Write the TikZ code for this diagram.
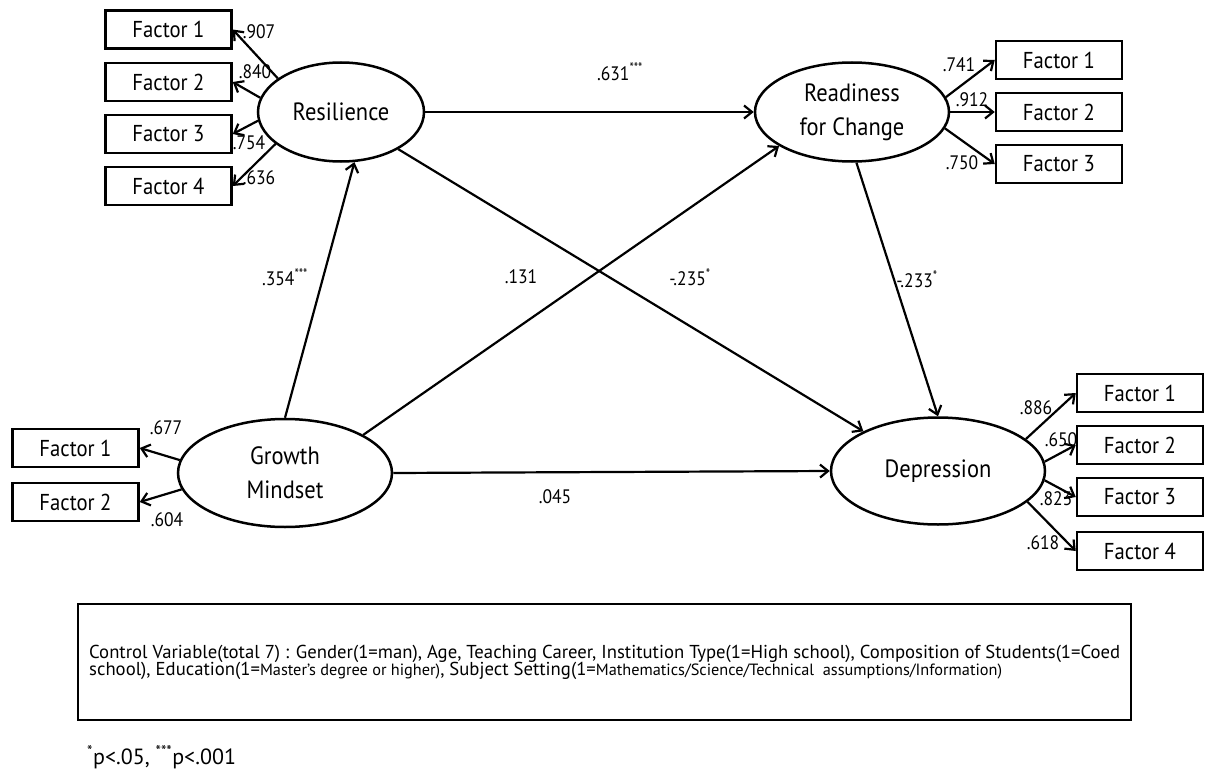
\documentclass[tikz,border=0pt]{standalone}
\usepackage{fontspec}
\setmainfont{PT Sans}
\newfontfamily\nfont{PT Sans}[FakeStretch=0.9]
\usetikzlibrary{arrows.meta,shapes.geometric}
\begin{document}
\begin{tikzpicture}[x=1pt,y=-1pt,
  lat/.style={draw,line width=2.5pt,ellipse,inner sep=0pt,align=center,font=\nfont\fontsize{25}{34}\selectfont},
  ind/.style={draw,line width=2.5pt,minimum width=126pt,minimum height=38pt,inner sep=0pt,font=\nfont\fontsize{23}{26}\selectfont},
  conn/.style={line width=2.2pt,-{Straight Barb[length=8pt,width=13pt,line width=2.2pt]}},
  coef/.style={font=\nfont\fontsize{19.5}{22}\selectfont,inner sep=0pt},
  ctl/.style={font=\fontsize{18.7}{18}\selectfont,inner sep=0pt,anchor=base west}
]
\useasboundingbox (0,0) rectangle (1205,776);

% latent variables
\node[lat,minimum width=166pt,minimum height=99pt] (res) at (341,112) {Resilience};
\node[lat,minimum width=194pt,minimum height=99pt] (read) at (852,112) {Readiness\\for Change};
\node[lat,minimum width=214pt,minimum height=108pt] (grow) at (285,473) {Growth\\Mindset};
\node[lat,minimum width=214pt,minimum height=107pt] (dep) at (938,471) {Depression};

% indicators
\node[ind] (r1) at (168.5,29.5) {Factor 1};
\node[ind] (r2) at (168.5,82) {Factor 2};
\node[ind] (r3) at (168.5,134) {Factor 3};
\node[ind] (r4) at (168.5,186) {Factor 4};

\node[ind] (c1) at (1059,60) {Factor 1};
\node[ind] (c2) at (1059,112) {Factor 2};
\node[ind] (c3) at (1059,164) {Factor 3};

\node[ind] (g1) at (75.5,448) {Factor 1};
\node[ind] (g2) at (75.5,502) {Factor 2};

\node[ind] (d1) at (1140,393) {Factor 1};
\node[ind] (d2) at (1140,445) {Factor 2};
\node[ind] (d3) at (1140,497) {Factor 3};
\node[ind] (d4) at (1140,551) {Factor 4};

% measurement arrows
\draw[conn] (res.152) -- (r1.east);
\draw[conn] (res.170) -- (r2.east);
\draw[conn] (res.186) -- (r3.east);
\draw[conn] (res.206) -- (r4.east);

\draw[conn] (read.9) -- (c1.west);
\draw[conn] (read.east) -- (c2.west);
\draw[conn] (read.350) -- (c3.west);

\draw[conn] (grow.173) -- (g1.east);
\draw[conn] (grow.189) -- (g2.east);

\draw[conn] (dep.20) -- (d1.west);
\draw[conn] (dep.5) -- (d2.west);
\draw[conn] (dep.355) -- (d3.west);
\draw[conn] (dep.341) -- (d4.west);

% structural arrows
\draw[conn] (res.east) -- (read.west);
\draw[conn] (grow.north) -- (res.285);
\draw[conn] (grow.26) -- (read.205);
\draw[conn] (res.327) -- (dep.152);
\draw[conn] (read.275) -- (dep.north);
\draw[conn] (grow.east) -- (dep.west);

% loading labels
\node[coef] (l907) at (259,32) {.907};
\node[coef] (l840) at (255,72) {.840};
\node[coef] (l754) at (249,143) {.754};
\node[coef] (l636) at (259,178) {.636};
\node[coef] (l741) at (959,65) {.741};
\node[coef] (l912) at (972,100) {.912};
\node[coef] (l750) at (962,163) {.750};
\node[coef] (l677) at (166,428) {.677};
\node[coef] (l604) at (167,520) {.604};
\node[coef] (l886) at (1036,408) {.886};
\node[coef] (l650) at (1061,440) {.650};
\node[coef] (l823) at (1056,499) {.823};
\node[coef] (l618) at (1043,543) {.618};

% path labels
\node[coef] (p631) at (620,72) {.631\textsuperscript{***}};
\node[coef] (p354) at (285,277) {.354\textsuperscript{***}};
\node[coef] (p131) at (521,277) {.131};
\node[coef] (p235) at (690,277) {-.235\textsuperscript{*}};
\node[coef] (p233) at (917,279) {-.233\textsuperscript{*}};
\node[coef] (p045) at (555,497) {.045};

% control variable box
\node[draw,line width=2.5pt,minimum width=1053pt,minimum height=116pt,inner sep=0pt] (ctrl) at (604.5,662) {};
\node[ctl] (ct1) at (89,658) {Control Variable(total 7) : Gender(1=man), Age, Teaching Career, Institution Type(1=High school), Composition of Students(1=Coed};
\node[ctl] (ct2) at (89,675.5) {school), Education(1={\fontsize{16.3}{18}\selectfont Master's degree or higher)}, Subject Setting(1={\fontsize{16.3}{18}\selectfont Mathematics/Science/Technical\ \ assumptions/Information)}};

% footnote
\node[font=\fontsize{22}{24}\selectfont,inner sep=0pt,anchor=west] (foot) at (87,757) {\textsuperscript{*}p<.05, \textsuperscript{***}p<.001};
\end{tikzpicture}
\end{document}
